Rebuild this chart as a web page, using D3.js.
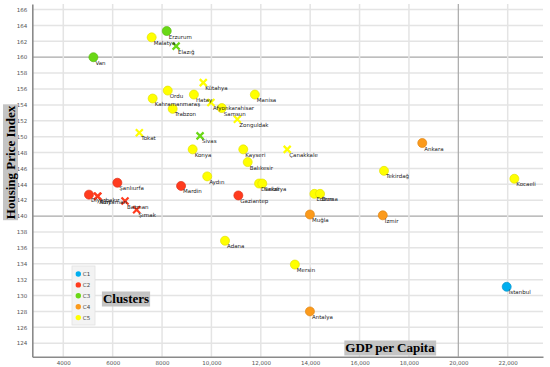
<!DOCTYPE html>
<html>
<head>
<meta charset="utf-8">
<script src="https://cdn.jsdelivr.net/npm/d3@7"></script>
<style>
  html, body { margin: 0; padding: 0; background: #fff; }
  svg { display: block; }
</style>
</head>
<body>
<svg id="chart" width="550" height="367"></svg>
<script>
// ─── data ───
const provinces = ['Erzurum','Malatya','Elazığ','Van','Ordu','Kahramanmaraş','Trabzon','Hatay',
  'Kütahya','Afyonkarahisar','Samsun','Zonguldak','Manisa','Tokat','Sivas','Konya','Kayseri',
  'Balıkesir','Çanakkale','Aydın','Şanlıurfa','Mardin','Diyarbakır','Siirt','Adıyaman','Batman',
  'Şırnak','Denizli','Sakarya','Gaziantep','Edirne','Bursa','Muğla','Adana','Ankara','Tekirdağ',
  'Kocaeli','İzmir','Mersin','Antalya','İstanbul'];
const gdpPerCapita = [8190,7580,8570,5220,8230,7620,8430,9290,
  9670,9980,10420,11050,11760,7080,9540,9240,11290,
  11470,13070,9830,6190,8770,5040,5400,5380,6500,
  6970,11930,12060,11090,14170,14400,13990,10550,18540,16990,
  22270,16940,13380,13990,21960];
const housingIndex = [163.3,162.5,161.4,160.0,155.8,154.8,153.5,155.3,
  156.8,154.3,153.6,152.2,155.3,150.5,150.1,148.4,148.4,
  146.8,148.4,145.0,144.2,143.8,142.7,142.5,142.5,141.9,
  140.8,144.1,144.1,142.6,142.8,142.8,140.2,136.9,149.2,145.7,
  144.7,140.1,133.9,128.0,131.1];
const clusterOf = ['C3','C5','C3','C3','C5','C5','C5','C5',
  'C5','C5','C5','C5','C5','C5','C3','C5','C5',
  'C5','C5','C5','C2','C2','C2','C2','C2','C2',
  'C2','C5','C5','C2','C5','C5','C4','C5','C4','C5',
  'C5','C4','C5','C4','C1'];
const markerShape = ['o','o','x','o','o','o','o','o',
  'x','x','o','x','o','x','x','o','o',
  'o','x','o','o','o','o','x','x','x',
  'x','o','o','o','o','o','o','o','o','o',
  'o','o','o','o','o'];
const clusters = ['C1','C2','C3','C4','C5'];
const clusterColors = ['#00aeef','#ff3b1e','#6ad815','#fb9a1c','#ffff00'];
const clusterEdges  = ['#0b95cc','#e0301a','#5cbc12','#e08512','#e2e200'];
const yTicks = d3.range(124, 167, 2);
const xTicks = [4000,6000,8000,10000,12000,14000,16000,18000,20000,22000];
const xTickLabels = ['4000','6000','8000','10,000','12,000','14,000','16,000','18,000','20,000','22,000'];

const points = provinces.map((name, i) => ({
  name, gdp: gdpPerCapita[i], hpi: housingIndex[i], c: clusterOf[i], shape: markerShape[i]
}));

const svg = d3.select('#chart');
const plotL = 32.3, plotR = 543, plotT = 4, plotB = 356.7;

const x = d3.scaleLinear().domain([2745, 23430]).range([plotL, plotR]);
const y = d3.scaleLinear().domain([122.3, 166.7]).range([plotB, plotT]);
const color = d3.scaleOrdinal().domain(clusters).range(clusterColors);
const edge  = d3.scaleOrdinal().domain(clusters).range(clusterEdges);

// grid
const grid = svg.append('g');
grid.selectAll('line.h').data(yTicks).enter().append('line')
  .attr('x1', plotL).attr('x2', plotR)
  .attr('y1', d => y(d)).attr('y2', d => y(d))
  .attr('stroke', d => d % 20 === 0 ? '#a8a8a8' : '#e4e4e4')
  .attr('stroke-width', d => d % 20 === 0 ? 1.2 : 1.5);
grid.selectAll('line.v').data(xTicks).enter().append('line')
  .attr('y1', plotT).attr('y2', plotB)
  .attr('x1', d => x(d)).attr('x2', d => x(d))
  .attr('stroke', d => d % 20000 === 0 ? '#a8a8a8' : '#e4e4e4')
  .attr('stroke-width', d => d % 20000 === 0 ? 1.2 : 1.5);

// axes
const yAxis = svg.append('g')
  .attr('transform', `translate(${plotL},0)`)
  .call(d3.axisLeft(y).tickValues(yTicks).tickSize(0).tickPadding(5).tickFormat(d3.format('d')));
const xAxis = svg.append('g')
  .attr('transform', `translate(0,${plotB})`)
  .call(d3.axisBottom(x).tickValues(xTicks).tickSize(0).tickPadding(4)
    .tickFormat((d, i) => xTickLabels[i]));
[yAxis, xAxis].forEach(a => {
  a.select('.domain').attr('stroke', '#8a8a8a').attr('stroke-width', 1.6);
  a.selectAll('text').attr('fill', '#555').style('font-family', 'DejaVu Sans')
    .style('font-size', '5.5px');
});

// markers
const circ = points.filter(d => d.shape === 'o');
const crosses = points.filter(d => d.shape === 'x');
svg.append('g').selectAll('circle').data(circ).enter().append('circle')
  .attr('cx', d => x(d.gdp)).attr('cy', d => y(d.hpi)).attr('r', 4.5)
  .attr('fill', d => color(d.c)).attr('stroke', d => edge(d.c)).attr('stroke-width', 0.7);
svg.append('g').selectAll('path').data(crosses).enter().append('path')
  .attr('d', d => {
    const cx = x(d.gdp), cy = y(d.hpi), s = 3.5;
    return `M${cx-s},${cy-s}L${cx+s},${cy+s}M${cx-s},${cy+s}L${cx+s},${cy-s}`;
  })
  .attr('stroke', d => color(d.c)).attr('stroke-width', 2.2).attr('fill', 'none');

// point labels
svg.append('g').selectAll('text').data(points).enter().append('text')
  .attr('x', d => x(d.gdp) + 2)
  .attr('y', d => y(d.hpi) + 7.5)
  .text(d => d.name)
  .attr('fill', '#222')
  .style('font-family', 'DejaVu Sans').style('font-size', '5.5px');

// legend
const lg = svg.append('g').attr('transform', 'translate(72,266)');
lg.append('rect').attr('width', 23).attr('height', 59)
  .attr('fill', '#f3f3f3').attr('stroke', '#e2e2e2').attr('stroke-width', 0.8);
const li = lg.selectAll('g').data(clusters).enter().append('g')
  .attr('transform', (d, i) => `translate(6.3,${8 + i * 10.9})`);
li.append('circle').attr('r', 2.7).attr('fill', d => color(d));
li.append('text').attr('x', 4.5).attr('dy', '0.35em').text(d => d)
  .attr('fill', '#444').style('font-family', 'DejaVu Sans').style('font-size', '5.5px');

// boxed titles
function boxedTitle(txt, cx, cy, rotate) {
  const g = svg.append('g').attr('transform', `translate(${cx},${cy}) rotate(${rotate})`);
  const rect = g.append('rect').attr('fill', '#c4c4c4');
  const t = g.append('text').text(txt).attr('text-anchor', 'middle').attr('dy', '0.33em')
    .attr('fill', '#000').style('font-family', 'Liberation Serif').style('font-weight', 'bold')
    .style('font-size', '13px');
  const bb = t.node().getBBox();
  rect.attr('x', bb.x - 1).attr('y', -7.5).attr('width', bb.width + 2).attr('height', 15);
}
boxedTitle('Housing Price Index', 10.5, 162.5, -90);
boxedTitle('Clusters', 126, 299, 0);
boxedTitle('GDP per Capita', 390, 348, 0);
</script>
</body>
</html>
